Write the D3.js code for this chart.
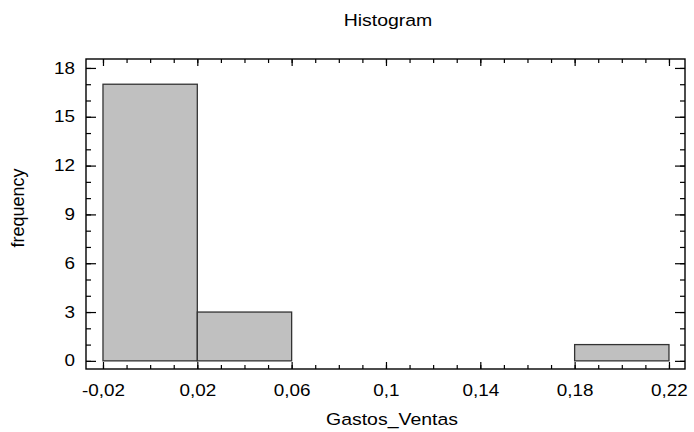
<!DOCTYPE html>
<html>
<head>
<meta charset="utf-8">
<script src="https://cdn.jsdelivr.net/npm/d3@7"></script>
<style>
  html, body { margin: 0; padding: 0; background: #fff; }
  svg { display: block; }
  text { font-family: "Liberation Sans", Arial, sans-serif; fill: #000; }
</style>
</head>
<body>
<svg id="chart" width="694" height="432"></svg>
<script>
// Histogram of Gastos_Ventas
const binStarts = [-0.02, 0.02, 0.06, 0.10, 0.14, 0.18];
const binEnds   = [ 0.02, 0.06, 0.10, 0.14, 0.18, 0.22];
const counts    = [17, 3, 0, 0, 0, 1];

const xTicks = [-0.02, 0.02, 0.06, 0.10, 0.14, 0.18, 0.22];
const xTickLabels = ["-0,02", "0,02", "0,06", "0,1", "0,14", "0,18", "0,22"];
const yTicks = [0, 3, 6, 9, 12, 15, 18];

const plot = { left: 86, right: 685, top: 59, bottom: 369 };
const WIDEN = 1.18; // horizontal widening of the lettering

const svg = d3.select("#chart");

const x = d3.scaleLinear().domain([-0.0272, 0.2268]).range([plot.left, plot.right]);
const y = d3.scaleLinear().domain([-0.5, 18.55]).range([plot.bottom, plot.top]);

// bars
const bins = binStarts.map((s, i) => ({ x0: s, x1: binEnds[i], n: counts[i] }));
svg.append("g").selectAll("rect").data(bins).join("rect")
  .attr("x", d => x(d.x0))
  .attr("y", d => y(d.n))
  .attr("width", d => x(d.x1) - x(d.x0))
  .attr("height", d => y(0) - y(d.n))
  .attr("fill", "#c0c0c0")
  .attr("stroke", "#333")
  .attr("stroke-width", 1.3);

// minor tick values
const xMinor = d3.range(-0.02, 0.2201, 0.01).map(v => +v.toFixed(3));
const yMinor = d3.range(0, 19, 1);

const fmtX = v => xTickLabels[xTicks.findIndex(t => Math.abs(t - v) < 1e-9)];

function styleAxis(g) {
  g.select(".domain").remove();
  g.selectAll("line").attr("stroke", "#000").attr("stroke-width", 1.2);
}
// move each label's offset into a transform so the glyphs can be widened in place
function widenLabels(g) {
  g.selectAll("text").each(function () {
    const t = d3.select(this);
    const tx = +t.attr("x") || 0, ty = +t.attr("y") || 0;
    t.attr("x", 0).attr("y", 0)
     .attr("font-size", 16)
     .attr("font-family", "Liberation Sans, Arial, sans-serif")
     .attr("transform", `translate(${tx},${ty}) scale(${WIDEN},1)`);
  });
}

// bottom
svg.append("g").attr("transform", `translate(0,${plot.bottom})`)
  .call(d3.axisBottom(x).tickValues(xMinor).tickSize(-4).tickFormat(""))
  .call(styleAxis);
svg.append("g").attr("transform", `translate(0,${plot.bottom})`)
  .call(d3.axisBottom(x).tickValues(xTicks).tickSize(-7).tickPadding(16).tickFormat(fmtX))
  .call(styleAxis)
  .call(widenLabels);
// top
svg.append("g").attr("transform", `translate(0,${plot.top})`)
  .call(d3.axisTop(x).tickValues(xMinor).tickSize(-4).tickFormat(""))
  .call(styleAxis);
svg.append("g").attr("transform", `translate(0,${plot.top})`)
  .call(d3.axisTop(x).tickValues(xTicks).tickSize(-7).tickFormat(""))
  .call(styleAxis);
// left
svg.append("g").attr("transform", `translate(${plot.left},0)`)
  .call(d3.axisLeft(y).tickValues(yMinor).tickSize(-5).tickFormat(""))
  .call(styleAxis);
svg.append("g").attr("transform", `translate(${plot.left},0)`)
  .call(d3.axisLeft(y).tickValues(yTicks).tickSize(-10).tickPadding(11).tickFormat(d3.format("d")))
  .call(styleAxis)
  .call(widenLabels);
// right
svg.append("g").attr("transform", `translate(${plot.right},0)`)
  .call(d3.axisRight(y).tickValues(yMinor).tickSize(-5).tickFormat(""))
  .call(styleAxis);
svg.append("g").attr("transform", `translate(${plot.right},0)`)
  .call(d3.axisRight(y).tickValues(yTicks).tickSize(-10).tickFormat(""))
  .call(styleAxis);

// frame
svg.append("rect")
  .attr("x", plot.left).attr("y", plot.top)
  .attr("width", plot.right - plot.left).attr("height", plot.bottom - plot.top)
  .attr("fill", "none").attr("stroke", "#000").attr("stroke-width", 1.4);

// titles
svg.append("text")
  .attr("transform", `translate(388,26) scale(${WIDEN},1)`)
  .attr("text-anchor", "middle").attr("font-size", 16.5).text("Histogram");
svg.append("text")
  .attr("transform", `translate(392,425) scale(${WIDEN},1)`)
  .attr("text-anchor", "middle").attr("font-size", 16.5).text("Gastos_Ventas");
svg.append("text")
  .attr("transform", "translate(24,208) rotate(-90)")
  .attr("text-anchor", "middle").attr("font-size", 18).text("frequency");
</script>
</body>
</html>
